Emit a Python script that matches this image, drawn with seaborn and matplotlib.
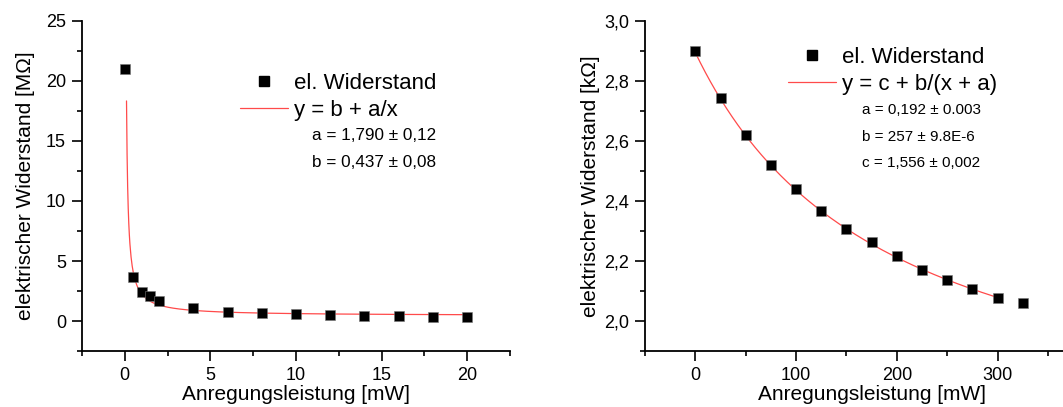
import numpy as np
import pandas as pd
import matplotlib
matplotlib.use("Agg")
import matplotlib.pyplot as plt
from matplotlib.ticker import MultipleLocator, FuncFormatter
from matplotlib.lines import Line2D
import seaborn as sns

# ---- measured resistance vs. excitation power ----
power_mw_left = [0, 0.5, 1, 1.5, 2, 4, 6, 8, 10, 12, 14, 16, 18, 20]
resist_mohm = [21.0, 3.69, 2.44, 2.08, 1.67, 1.11, 0.78, 0.64, 0.56, 0.47, 0.45, 0.38, 0.36, 0.35]

power_mw_right = [0, 25, 50, 75, 100, 125, 150, 175, 200, 225, 250, 275, 300, 325]
resist_kohm = [2.900, 2.744, 2.621, 2.520, 2.440, 2.368, 2.308, 2.262, 2.216, 2.170,
               2.137, 2.106, 2.078, 2.059]

# fit parameters as printed on the chart
fit_left_a, fit_left_b = 1.790, 0.437           # y = b + a/x
fit_right_a_w, fit_right_b, fit_right_c = 0.192, 257.0, 1.556   # y = c + b/(x + a), a in W

param_text_left = ["a = 1,790 \u00b1 0,12", "b = 0,437 \u00b1 0,08"]
param_text_right = ["a = 0,192 \u00b1 0.003", "b = 257 \u00b1 9.8E-6", "c = 1,556 \u00b1 0,002"]

sns.set_style("ticks")
plt.rcParams["font.family"] = ["Liberation Sans", "DejaVu Sans"]
plt.rcParams["text.color"] = "black"
plt.rcParams["axes.labelcolor"] = "black"
plt.rcParams["xtick.color"] = "black"
plt.rcParams["ytick.color"] = "black"

W, H = 1063, 407
fig = plt.figure(figsize=(W / 100, H / 100), dpi=100)

def px_axes(x0, x1, y0, y1):
    return fig.add_axes([x0 / W, 1 - y1 / H, (x1 - x0) / W, (y1 - y0) / H])

ax1 = px_axes(82, 510, 21, 351)
ax2 = px_axes(645, 1066, 21, 351)

red = "#ff4a4a"

def comma(fmt):
    return FuncFormatter(lambda v, p: fmt.format(v).replace(".", ","))

def style(ax):
    for s in ("top", "right"):
        ax.spines[s].set_visible(False)
    for s in ("left", "bottom"):
        ax.spines[s].set_linewidth(1.3)
        ax.spines[s].set_color("black")
    ax.tick_params(which="major", length=7, width=1.2, pad=4.5, labelsize=13,
                   color="black", labelcolor="black")
    ax.tick_params(which="minor", length=3.5, width=1.2, color="black")
    ax.set_facecolor("white")

# ---- left panel ----
df_l = pd.DataFrame({"P": power_mw_left, "R": resist_mohm})
xf = np.linspace(0.1, 20, 600)
fit_l = pd.DataFrame({"P": xf, "R": fit_left_b + fit_left_a / xf})
sns.lineplot(data=fit_l, x="P", y="R", ax=ax1, color=red, lw=0.9, zorder=2)
sns.scatterplot(data=df_l, x="P", y="R", ax=ax1, marker="s", s=55, color="black",
                edgecolor="#777777", linewidth=0.4, zorder=3)
ax1.set_xlim(-2.5, 22.5)
ax1.set_ylim(-2.5, 25)
ax1.xaxis.set_major_locator(MultipleLocator(5))
ax1.xaxis.set_minor_locator(MultipleLocator(2.5))
ax1.yaxis.set_major_locator(MultipleLocator(5))
ax1.yaxis.set_minor_locator(MultipleLocator(2.5))
ax1.xaxis.set_major_formatter(comma("{:g}"))
ax1.yaxis.set_major_formatter(comma("{:g}"))
style(ax1)
ax1.set_xlabel("Anregungsleistung [mW]", fontsize=15, labelpad=1)
ax1.set_ylabel("elektrischer Widerstand [M\u03a9]", fontsize=15, labelpad=8)

# ---- right panel ----
df_r = pd.DataFrame({"P": power_mw_right, "R": resist_kohm})
xr = np.linspace(0, 300, 600)
fit_r = pd.DataFrame({"P": xr, "R": fit_right_c + fit_right_b / (xr + fit_right_a_w * 1000)})
sns.lineplot(data=fit_r, x="P", y="R", ax=ax2, color=red, lw=0.9, zorder=2)
sns.scatterplot(data=df_r, x="P", y="R", ax=ax2, marker="s", s=55, color="black",
                edgecolor="#777777", linewidth=0.4, zorder=3)
ax2.set_xlim(-50, 368)
ax2.set_ylim(1.9, 3.0)
ax2.xaxis.set_major_locator(MultipleLocator(100))
ax2.xaxis.set_minor_locator(MultipleLocator(50))
ax2.yaxis.set_major_locator(MultipleLocator(0.2))
ax2.yaxis.set_minor_locator(MultipleLocator(0.1))
ax2.xaxis.set_major_formatter(comma("{:g}"))
ax2.yaxis.set_major_formatter(comma("{:.1f}"))
style(ax2)
ax2.set_xlabel("Anregungsleistung [mW]", fontsize=15, labelpad=1)
ax2.xaxis.label.set_x(0.54)
ax2.set_ylabel("elektrischer Widerstand [k\u03a9]", fontsize=15, labelpad=3)

# ---- legends ----
def add_legend(ax, fit_label, x_px, y_px):
    handles = [
        Line2D([], [], ls="none", marker="s", markersize=6.5, color="black"),
        Line2D([], [], color=red, lw=0.9),
    ]
    ax.legend(handles, ["el. Widerstand", fit_label], frameon=False, fontsize=16,
              loc="upper left", bbox_to_anchor=(x_px / W, 1 - y_px / H),
              bbox_transform=fig.transFigure, borderpad=0, borderaxespad=0,
              handlelength=2.15, handletextpad=0.3, labelspacing=0.27)

add_legend(ax1, "y = b + a/x", 240, 73)
add_legend(ax2, "y = c + b/(x + a)", 788, 47)

for i, t in enumerate(param_text_left):
    fig.text(312 / W, 1 - (136 + 27 * i) / H, t, fontsize=12.3, va="center", ha="left")
for i, t in enumerate(param_text_right):
    fig.text(862 / W, 1 - (110 + 26.7 * i) / H, t, fontsize=11, va="center", ha="left")

fig.savefig("out.png", dpi=100, facecolor="white")
